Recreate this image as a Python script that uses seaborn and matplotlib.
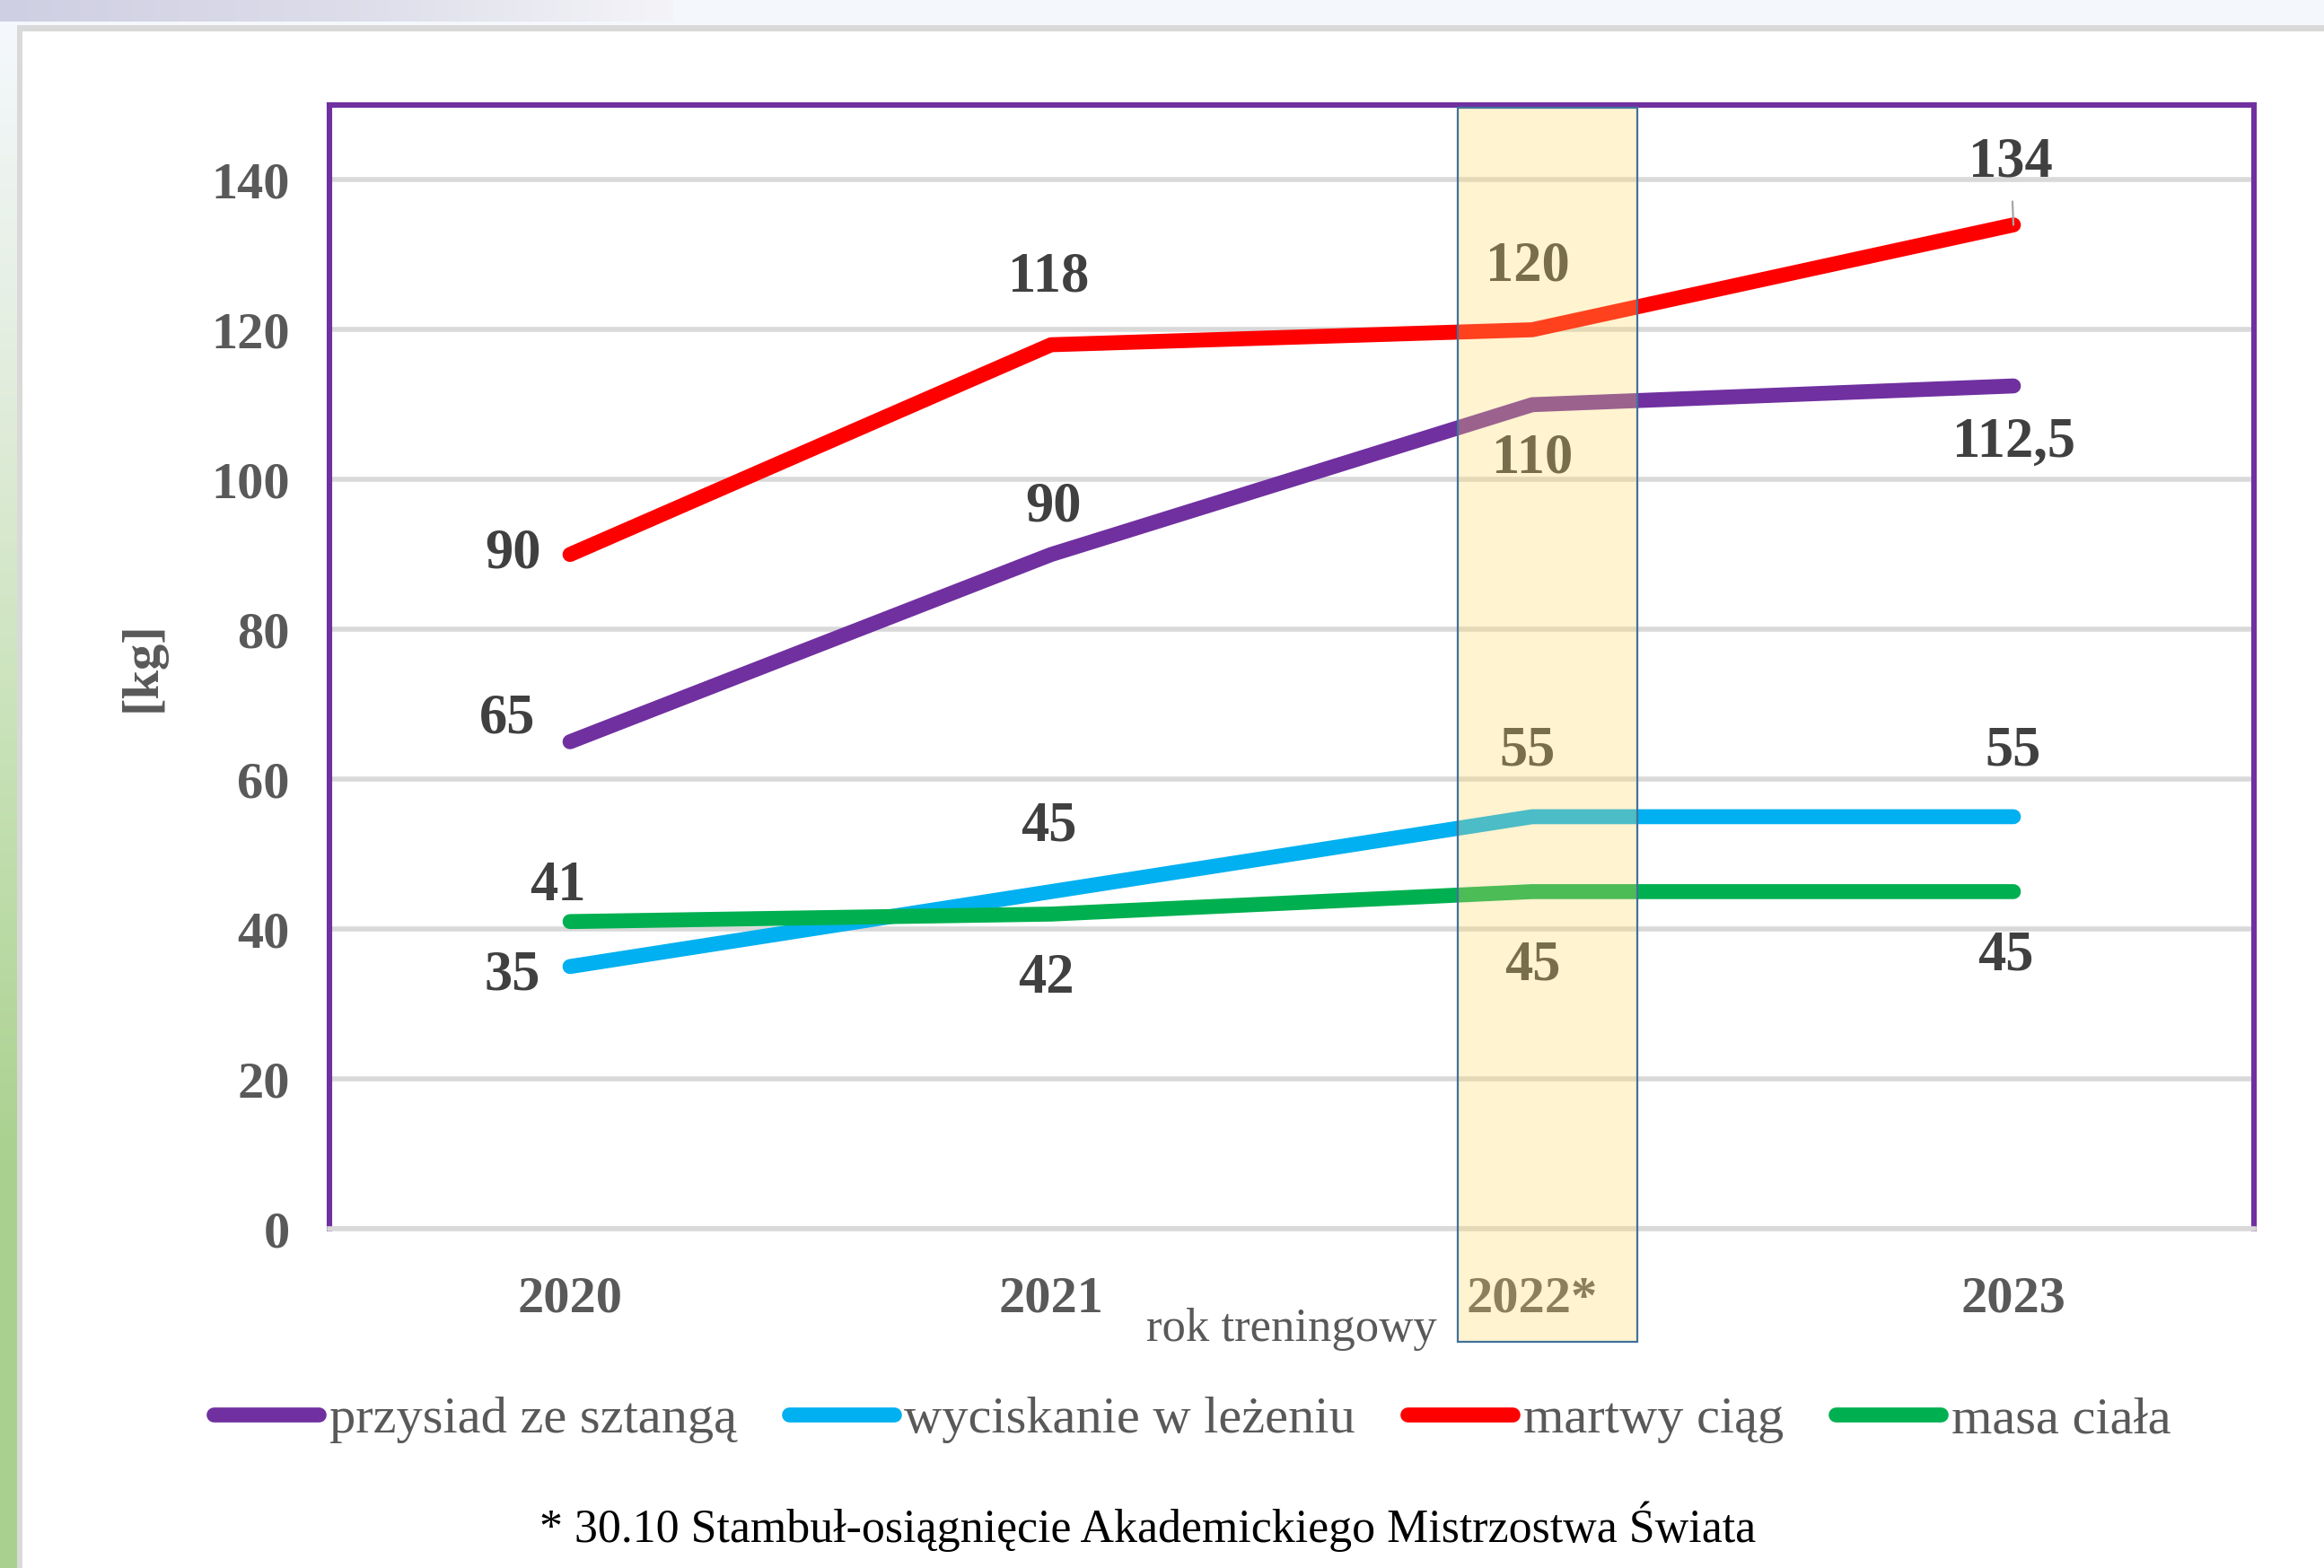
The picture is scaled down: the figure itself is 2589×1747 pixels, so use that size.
import numpy as np
import pandas as pd
import matplotlib
matplotlib.use("Agg")
import matplotlib.pyplot as plt
import seaborn as sns
from matplotlib.patches import Rectangle
from matplotlib.lines import Line2D

# --- data ---
years = ["2020", "2021", "2022*", "2023"]
przysiad = [65, 90, 110, 112.5]
wyciskanie = [35, 45, 55, 55]
martwy = [90, 118, 120, 134]
masa = [41, 42, 45, 45]
series_names = ["przysiad ze sztangą", "wyciskanie w leżeniu", "martwy ciąg", "masa ciała"]
series_values = [przysiad, wyciskanie, martwy, masa]
y_ticks = [0, 20, 40, 60, 80, 100, 120, 140]

# --- style ---
colors = ["#7030A0", "#00B0F0", "#FF0000", "#00B050"]
# label offsets in points (dx, dy) for every point of every series
label_offsets = [
    [(-25, 9), (1, 19), (0, -22), (0, -23)],
    [(-23, -4), (-1, 26), (-2, 26), (0, 26)],
    [(-23, 0), (-1, 27), (-2, 25), (-1, 25)],
    [(-5, 14), (-2, -26), (0, -30), (-3, -26)],
]

W, H, DPI = 2589, 1747, 200
sns.set_theme(style="white")
plt.rcParams["font.family"] = ["Liberation Serif", "DejaVu Serif"]

df = pd.DataFrame({"rok": years * 4,
                   "kg": sum(series_values, []),
                   "seria": [n for n in series_names for _ in years]})

fig = plt.figure(figsize=(W / DPI, H / DPI), dpi=DPI)
fig.patch.set_facecolor("white")

# background decoration (slide frame)
bg = fig.add_axes([0, 0, 1, 1], zorder=-5)
bg.add_patch(Rectangle((0, 0), W, 30, color="#F4F8FC", lw=0, zorder=0))
top_grad = np.linspace(0, 1, 200)[None, :]
bg.imshow(top_grad, extent=[0, 750, 24, 0], aspect="auto", zorder=2,
          cmap=matplotlib.colors.LinearSegmentedColormap.from_list("t", ["#CFCFE3", "#DCDCEA", "#F4F4F8"]))
left_grad = np.linspace(0, 1, 200)[:, None]
bg.imshow(left_grad, extent=[0, 19, H, 28], aspect="auto", zorder=2,
          cmap=matplotlib.colors.LinearSegmentedColormap.from_list(
              "l", ["#F4F8FC", "#E0ECDA", "#C4E0B2", "#A9D08E", "#A9D08E"]))
bg.add_patch(Rectangle((19, 28), W, 7, color="#D9D9D9", lw=0, zorder=3))
bg.add_patch(Rectangle((19, 28), 6, H, color="#D9D9D9", lw=0, zorder=3))
bg.set_xlim(0, W)
bg.set_ylim(H, 0)
bg.axis("off")

ax = fig.add_axes([367 / W, 1 - 1369 / H, (2511 - 367) / W, (1369 - 117) / H])
sns.lineplot(data=df, x="rok", y="kg", hue="seria", palette=colors,
             linewidth=6, ax=ax, legend=False, sort=False)
for ln in ax.get_lines():
    ln.set_solid_capstyle("round")
    ln.set_solid_joinstyle("round")

ax.set_xlim(-0.5, 3.5)
ax.set_ylim(0, 150)
ax.set_yticks(y_ticks)
ax.yaxis.grid(True, color="#D9D9D9", lw=2)
ax.set_axisbelow(True)
for s in ["top", "left", "right"]:
    ax.spines[s].set_color("#7030A0")
    ax.spines[s].set_linewidth(2.2)
ax.spines["bottom"].set_color("#D9D9D9")
ax.spines["bottom"].set_linewidth(2)
ax.tick_params(axis="both", length=0, labelsize=21, labelcolor="#595959")
ax.tick_params(axis="y", pad=16)
ax.tick_params(axis="x", pad=19)
for t in ax.get_xticklabels() + ax.get_yticklabels():
    t.set_fontweight("bold")
ax.set_xlabel("rok treningowy", fontsize=19, color="#595959", labelpad=-6)
ax.set_ylabel("[kg]", fontsize=21, color="#595959", fontweight="bold", labelpad=18)

# data labels
for vals, offs in zip(series_values, label_offsets):
    for i, (v, off) in enumerate(zip(vals, offs)):
        txt = f"{v:g}".replace(".", ",")
        kw = {}
        if i == 3 and v == 134:
            kw["arrowprops"] = dict(arrowstyle="-", color="#A6A6A6", lw=0.8,
                                    shrinkA=3, shrinkB=0)
        ax.annotate(txt, (i, v), xytext=off, textcoords="offset points",
                    ha="center", va="center", fontsize=22.5, fontweight="bold",
                    color="#404040", **kw)

# highlighted 2022 column
ax.add_patch(Rectangle((1.846, -15.1), 0.373, 164.7, facecolor="#FFD966",
                       alpha=0.3, edgecolor="none", clip_on=False, zorder=10))
ax.add_patch(Rectangle((1.846, -15.1), 0.373, 164.7, facecolor="none",
                       edgecolor="#41719C", lw=0.8, clip_on=False, zorder=11))

handles = [Line2D([0], [0], color=c, lw=6, solid_capstyle="round") for c in colors]
fig.legend(handles, series_names, loc="center", bbox_to_anchor=(0.513, 1 - 1582 / H),
           ncol=4, frameon=False, fontsize=21, handlelength=2.0, handletextpad=0.2,
           columnspacing=1.0, labelcolor="#595959")

fig.text(0.494, 1 - 1701 / H,
         "* 30.10 Stambuł-osiągnięcie Akademickiego Mistrzostwa Świata",
         ha="center", va="center", fontsize=18.7, color="black")

fig.savefig("out.png", dpi=DPI)
